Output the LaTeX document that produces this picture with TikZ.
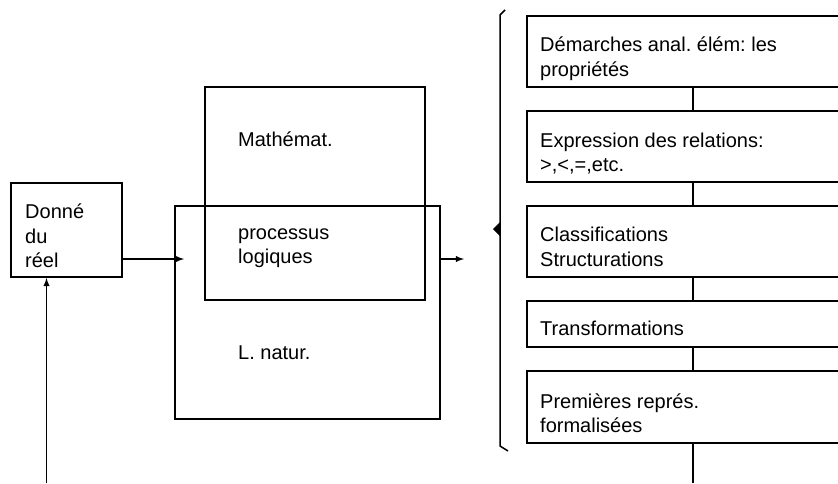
\documentclass[tikz,border=0pt]{standalone}
\usepackage{fontspec}
\setmainfont{Liberation Sans}
\usetikzlibrary{arrows,shapes}
\tikzstyle{box}=[draw,line width=1.8pt,rectangle,inner sep=0pt]
\tikzstyle{stage}=[box,minimum width=332pt]
\tikzstyle{label}=[inner sep=0pt,anchor=west,align=left,font=\fontsize{20}{24.5}\selectfont]
\tikzstyle{link}=[draw,line width=1.8pt,-]
\tikzstyle{flow}=[draw,line width=1.8pt,-latex]

\begin{document}
\frenchspacing
\begin{tikzpicture}[x=1pt,y=-1pt]
    \useasboundingbox (0,0) rectangle (838,483);
    \clip (0,0) rectangle (838,483);
    % The given box on the left
    \node[box,minimum width=111pt,minimum height=94pt] (donne) at (66.5,230) {};
    \node[label] (ldonne) at (25,236) {Donné\\du\\réel};

    % The two overlapping boxes
    \node[box,minimum width=265pt,minimum height=213pt] (natur) at (307.5,312.5) {};
    \node[box,minimum width=220pt,minimum height=213pt] (math) at (315,193.5) {};
    \node[label] (lmath) at (238,139) {Mathémat.};
    \node[label] (lproc) at (238,248) {processus\\logiques};
    \node[label] (lnatur) at (238,353) {L. natur.};

    % The stages on the right
    \foreach \pos/\name/\hgt/\lpos/\txt in {{(693,51.5)/b1/71/{(540,58.5)}/{Démarches anal. élém: les\\propriétés}},
        {(693,146.5)/b2/71/{(540,153.5)}/{Expression des relations:\\>,<,=,etc.}},
        {(693,241.5)/b3/71/{(540,247)}/{Classifications\\Structurations}},
        {(693,324)/b4/46/{(540,328)}/{Transformations}},
        {(693,407)/b5/72/{(540,413)}/{Premières représ.\\formalisées}}}
    {
        \node[stage,minimum height=\hgt pt] (\name) at \pos {};
        \node[label] (l\name) at \lpos {\txt};
    }

    % Connect the stages
    \coordinate (end) at (693,483);
    \foreach \source/\dest in {b1/b2, b2/b3, b3/b4, b4/b5}
        \path[link] (\source.south) -- (\dest.north);
    \path[link] (b5.south) -- (end);

    % Arrows
    \coordinate (in) at (184,259);
    \coordinate (out) at (464,259);
    \coordinate (back) at (46.5,483);
    \path[flow] (donne.east |- in) -- (in);
    \path[flow] (natur.east |- out) -- (out);
    \path[flow] (back) -- (back |- donne.south);

    % The brace
    \draw[line width=1.5pt] (505,10) -- (500,15) -- (500,446) -- (508,451);
    \fill (500,222) -- (493,229) -- (500,236) -- cycle;
\end{tikzpicture}
\end{document}
